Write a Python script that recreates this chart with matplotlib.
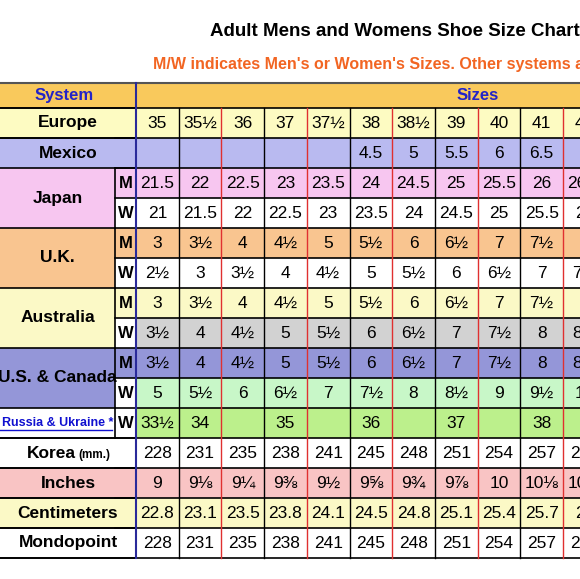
import matplotlib.pyplot as plt
from matplotlib.patches import Rectangle

# column values, one list per row
europe = ["35", "35½", "36", "37", "37½", "38", "38½", "39", "40", "41", "42"]
mexico = ["", "", "", "", "", "4.5", "5", "5.5", "6", "6.5", "7"]
japan_m = ["21.5", "22", "22.5", "23", "23.5", "24", "24.5", "25", "25.5", "26", "26.5"]
japan_w = ["21", "21.5", "22", "22.5", "23", "23.5", "24", "24.5", "25", "25.5", "26"]
uk_m = ["3", "3½", "4", "4½", "5", "5½", "6", "6½", "7", "7½", "8"]
uk_w = ["2½", "3", "3½", "4", "4½", "5", "5½", "6", "6½", "7", "7½"]
aus_m = ["3", "3½", "4", "4½", "5", "5½", "6", "6½", "7", "7½", "8"]
aus_w = ["3½", "4", "4½", "5", "5½", "6", "6½", "7", "7½", "8", "8½"]
us_m = ["3½", "4", "4½", "5", "5½", "6", "6½", "7", "7½", "8", "8½"]
us_w = ["5", "5½", "6", "6½", "7", "7½", "8", "8½", "9", "9½", "10"]
russia = ["33½", "34", "", "35", "", "36", "", "37", "", "38", ""]
korea = ["228", "231", "235", "238", "241", "245", "248", "251", "254", "257", "260"]
inches = ["9", "9⅛", "9¼", "9⅜", "9½", "9⅝", "9¾", "9⅞", "10", "10⅛", "10¼"]
cm = ["22.8", "23.1", "23.5", "23.8", "24.1", "24.5", "24.8", "25.1", "25.4", "25.7", "26"]
mondo = ["228", "231", "235", "238", "241", "245", "248", "251", "254", "257", "260"]

# (values, M/W tag, row colour)
rows = [
    (europe, None, "#fdfbc2"),
    (mexico, None, "#b9baf0"),
    (japan_m, "M", "#f7c6f0"),
    (japan_w, "W", "#ffffff"),
    (uk_m, "M", "#f9c590"),
    (uk_w, "W", "#ffffff"),
    (aus_m, "M", "#fbf9c6"),
    (aus_w, "W", "#d2d2d2"),
    (us_m, "M", "#9496d8"),
    (us_w, "W", "#c8f7c8"),
    (russia, "W", "#bcf08c"),
    (korea, None, "#ffffff"),
    (inches, None, "#f9c4c4"),
    (cm, None, "#fbf9c6"),
    (mondo, None, "#ffffff"),
]
# label, first row, number of rows, colour
labels = [
    ("Europe", 0, 1, "#fdfbc2"), ("Mexico", 1, 1, "#b9baf0"),
    ("Japan", 2, 2, "#f7c6f0"), ("U.K.", 4, 2, "#f9c590"),
    ("Australia", 6, 2, "#fbf9c6"), ("U.S. & Canada", 8, 2, "#9496d8"),
    ("Russia & Ukraine *", 10, 1, "#ffffff"), ("Korea", 11, 1, "#ffffff"),
    ("Inches", 12, 1, "#f9c4c4"), ("Centimeters", 13, 1, "#fbf9c6"),
    ("Mondopoint", 14, 1, "#ffffff"),
]

plt.rcParams['font.family'] = ['Liberation Sans', 'DejaVu Sans']

fig = plt.figure(figsize=(5.8, 5.79), dpi=100)
ax = fig.add_axes([0, 0, 1, 1])
ax.set_xlim(0, 580)
ax.set_ylim(579, 0)
ax.axis("off")

top, rh = 108, 30
x0, cw, mw = 136, 42.7, 115

# the reference is cropped on the right, so these run past the edge
ax.text(210, 31, "Adult Mens and Womens Shoe Size Chart", fontsize=13.5, weight="bold", va="center")
ax.text(153, 64, "M/W indicates Men's or Women's Sizes. Other systems are unisex",
        fontsize=11.5, weight="bold", color="#f26522", va="center")

# header
ax.add_patch(Rectangle((0, 83), 600, 25, fc="#f9c95c", ec="none"))
ax.text(64, 95.5, "System", color="#2323c8", weight="bold", fontsize=12, ha="center", va="center")
ax.text(478, 95.5, "Sizes", color="#2323c8", weight="bold", fontsize=12, ha="center", va="center")

for i, (vals, tag, col) in enumerate(rows):
    y = top + i * rh
    ax.add_patch(Rectangle((x0, y), 600, rh, fc=col, ec="none"))
    for j, v in enumerate(vals):
        ax.text(x0 + (j + 0.5) * cw, y + rh / 2, v, fontsize=12.5, ha="center", va="center")
    if tag:
        ax.add_patch(Rectangle((mw, y), x0 - mw, rh, fc="#ffffff" if tag == "W" else col, ec="none"))
        ax.text((mw + x0) / 2, y + rh / 2, tag, fontsize=12, weight="bold", ha="center", va="center")

for name, r0, n, col in labels:
    y = top + r0 * rh
    right = x0 if rows[r0][1] is None else mw
    ax.add_patch(Rectangle((0, y), right, n * rh, fc=col, ec="none"))
    cx, cy = right / 2, y + n * rh / 2
    if name.startswith("Russia"):
        ax.text(cx, cy, name, fontsize=9, weight="bold", color="#1010d0", ha="center", va="center")
        ax.plot([0, 112], [cy + 7, cy + 7], color="#1010d0", lw=1)
    elif name == "Korea":
        ax.text(cx + 8, cy, "Korea", fontsize=12.5, weight="bold", ha="right", va="center")
        ax.text(cx + 10, cy + 2, "(mm.)", fontsize=8.5, weight="bold", ha="left", va="center")
    else:
        ax.text(cx, cy, name, fontsize=12.5, weight="bold", ha="center", va="center")
    ax.plot([0, right], [y + n * rh] * 2, color="black", lw=1.2)

# grid lines
for i in range(len(rows) + 1):
    ax.plot([mw if 0 < i < len(rows) else 0, 600], [top + i * rh] * 2, color="black", lw=1.2)
ax.plot([0, 600], [83, 83], color="#555555", lw=1.5)
for i in range(0, len(rows)):
    if rows[i][1] is None:
        ax.plot([0, x0], [top + i * rh] * 2, color="black", lw=1.2)
ax.plot([x0, x0], [83, top + len(rows) * rh], color="#2a2a9a", lw=1.5)
for j in range(1, 12):
    ax.plot([x0 + j * cw] * 2, [top, top + len(rows) * rh],
            color="#e03030" if j % 2 == 0 else "black", lw=1)
for r0 in [2, 4, 6, 8, 10]:
    n = 2 if r0 < 10 else 1
    ax.plot([mw, mw], [top + r0 * rh, top + (r0 + n) * rh], color="black", lw=1.2)

fig.savefig("out.png", dpi=100)
